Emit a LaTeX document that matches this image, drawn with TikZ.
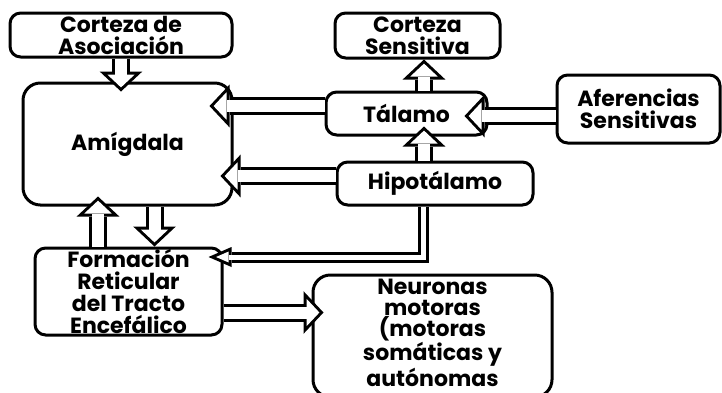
\documentclass[tikz,border=0pt]{standalone}
\usepackage{fontspec}
\setmainfont{Poppins}
\usetikzlibrary{arrows.meta,calc}
\tikzset{
  bx/.style={
    draw=black, line width=2.25pt, rounded corners=8pt, fill=white,
    align=center, inner sep=0pt, font=\bfseries\fontsize{16.5}{16.5}\selectfont
  },
  blk/.style={
    draw=black, line width=13.5pt,
    -{Triangle[length=15pt,width=32pt,line width=0pt]},
    postaction={draw=white, line width=9pt, shorten >=3.08pt,
      -{Triangle[length=9.67pt,width=20.6pt,line width=0pt]}}
  },
  blkthin/.style={
    draw=black, line width=8.25pt,
    -{Triangle[length=17.25pt,width=15pt,line width=0pt]},
    postaction={draw=white, line width=3.75pt, shorten >=5.64pt,
      -{Triangle[length=9.36pt,width=8.14pt,line width=0pt]}}
  }
}

\begin{document}
\begin{tikzpicture}[x=0.75pt,y=-0.75pt]
  \useasboundingbox (0,0) rectangle (722,393);

  % Boxes
  \node[bx, minimum width=166.5pt, minimum height=33pt] (asoc) at (121,35) {Corteza de\\Asociación};
  \node[bx, minimum width=156.75pt, minimum height=91.5pt, rounded corners=13pt] (amig) at (127.5,144) {Amígdala};
  \node[bx, minimum width=123.75pt, minimum height=33.75pt] (csens) at (417.5,35.5) {Corteza\\Sensitiva};
  \node[bx, minimum width=120.75pt, minimum height=32.25pt] (tal) at (406.5,113.5) {Tálamo};
  \node[bx, minimum width=122.25pt, minimum height=51pt] (afer) at (638.5,109) {Aferencias\\Sensitivas};
  \node[bx, minimum width=147pt, minimum height=32.25pt] (hipo) at (435,183.5) {Hipotálamo};
  \node[bx, minimum width=140.25pt, minimum height=65.25pt] (form) at (128.5,291.5) {Formación\\Reticular\\del Tracto\\Encefálico};
  \node[bx, minimum width=179.25pt, minimum height=91.5pt, rounded corners=13pt,
    font=\bfseries\fontsize{16.5}{16}\selectfont] (neur) at (432.5,336)
    {Neuronas\\motoras\\(motoras\\somáticas y\\autónomas\\[-10.75pt]};

  % Block arrows
  \draw[blk] (asoc.south) -- ($(asoc.south |- amig.north)+(0,10)$);
  \draw[blk] ($(tal.west)+(0,-7.5)$) -- ($(amig.east |- tal.west)+(-24,-7.5)$);
  \draw[blk] ($(hipo.west)+(0,-7.5)$) -- ($(amig.east |- hipo.west)+(-13,-7.5)$);
  \draw[blk] ($(tal.north)+(17.5,0)$) -- ($(tal.north |- csens.south)+(17.5,0)$);
  \draw[blk] ($(afer.west)+(0,7)$) -- ($(tal.east |- afer.west)+(-24,7)$);
  \draw[blk] ($(hipo.north)+(-11,0)$) -- ($(tal.south)+(17.5,-10)$);
  \draw[blkthin] ($(hipo.south)+(-11.5,0)$) |- ($(form.east)+(-15,-34.5)$);
  \draw[blk] ($(amig.south)+(27,0)$) -- ($(form.north -| amig.south)+(27,0)$);
  \draw[blk] ($(form.north)+(-30.5,0)$) -- ($(amig.south -| form.north)+(-30.5,-10)$);
  \draw[blk] ($(form.east)+(0,21)$) -- ($(neur.west |- form.east)+(12,21)$);
\end{tikzpicture}
\end{document}
